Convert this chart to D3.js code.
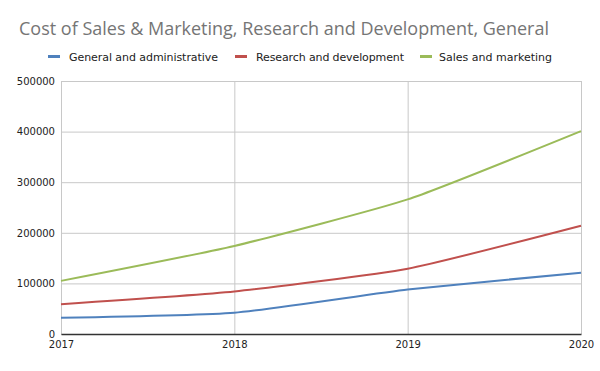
<!DOCTYPE html>
<html>
<head>
<meta charset="utf-8">
<script src="https://cdn.jsdelivr.net/npm/d3@7"></script>
<style>
  body { margin: 0; background: #fff; }
  text { font-family: "DejaVu Sans", sans-serif; }
</style>
</head>
<body>
<div id="chart"></div>
<script>
const years = ['2017', '2018', '2019', '2020'];
const seriesNames = ['General and administrative', 'Research and development', 'Sales and marketing'];
const seriesColors = ['#4f81bd', '#c0504d', '#9bbb59'];
const generalAdmin = [32000, 42000, 88000, 121000];
const researchDev = [59000, 84000, 129000, 214000];
const salesMarketing = [105000, 174000, 266000, 401000];
const yTicks = [0, 100000, 200000, 300000, 400000, 500000];

const width = 600;
const height = 371;
const margin = { top: 81, right: 19, bottom: 37, left: 61 };

const svg = d3.select('#chart')
    .append('svg')
    .attr('width', width)
    .attr('height', height);

const chartWidth = width - margin.left - margin.right;
const chartHeight = height - margin.top - margin.bottom;

const chart = svg.append('g')
    .attr('transform', `translate(${margin.left},${margin.top})`);

const xScale = d3.scalePoint()
    .domain(years)
    .range([0, chartWidth]);
const yScale = d3.scaleLinear()
    .domain([0, 500000])
    .range([chartHeight, 0]);

// horizontal gridlines
chart.append('g')
    .selectAll('line')
    .data(yTicks)
    .enter()
    .append('line')
    .attr('x1', 0)
    .attr('x2', chartWidth)
    .attr('y1', d => yScale(d) + 0.5)
    .attr('y2', d => yScale(d) + 0.5)
    .attr('stroke', '#c8c8c8');

// vertical gridlines
chart.append('g')
    .selectAll('line')
    .data(years)
    .enter()
    .append('line')
    .attr('x1', d => xScale(d) + 0.5)
    .attr('x2', d => xScale(d) + 0.5)
    .attr('y1', 0)
    .attr('y2', chartHeight)
    .attr('stroke', '#c8c8c8');

const yAxis = d3.axisLeft(yScale)
    .tickValues(yTicks)
    .tickSize(0)
    .tickPadding(6)
    .tickFormat(d => d);
chart.append('g')
    .call(yAxis)
    .call(g => g.select('.domain').remove())
    .selectAll('text')
    .attr('fill', '#222')
    .style('font-size', '10px');

const xAxis = d3.axisBottom(xScale)
    .tickSize(0)
    .tickPadding(7);
chart.append('g')
    .attr('transform', `translate(0,${chartHeight})`)
    .call(xAxis)
    .call(g => g.select('.domain').attr('stroke', '#333').attr('stroke-width', 1.3))
    .selectAll('text')
    .attr('fill', '#222')
    .style('font-size', '10px');

const allSeries = [generalAdmin, researchDev, salesMarketing];

const line = d3.line()
    .x((d, i) => xScale(years[i]))
    .y(d => yScale(d))
    .curve(d3.curveCardinal.tension(0.5));

chart.append('g')
    .selectAll('path')
    .data(allSeries)
    .enter()
    .append('path')
    .attr('d', d => line(d))
    .attr('fill', 'none')
    .attr('stroke', (d, i) => seriesColors[i])
    .attr('stroke-width', 2);

// title
svg.append('text')
    .attr('x', 19)
    .attr('y', 35)
    .attr('fill', '#757575')
    .attr('textLength', 530)
    .attr('lengthAdjust', 'spacingAndGlyphs')
    .style('font-family', '"Open Sans", sans-serif')
    .style('font-size', '18px')
    .text('Cost of Sales & Marketing, Research and Development, General');

// legend
const legendX = [48, 235, 420];
const legendLen = [149, 148, 113];
const legend = svg.append('g')
    .selectAll('g')
    .data(seriesNames)
    .enter()
    .append('g')
    .attr('transform', (d, i) => `translate(${legendX[i]},56.5)`);
legend.append('rect')
    .attr('x', 0)
    .attr('y', -1.5)
    .attr('width', 12)
    .attr('height', 3)
    .attr('fill', (d, i) => seriesColors[i]);
legend.append('text')
    .attr('x', (d, i) => i === 2 ? 19 : 21)
    .attr('y', 4)
    .attr('fill', '#222')
    .attr('textLength', (d, i) => legendLen[i])
    .attr('lengthAdjust', 'spacing')
    .style('font-size', '11px')
    .text(d => d);
</script>
</body>
</html>
